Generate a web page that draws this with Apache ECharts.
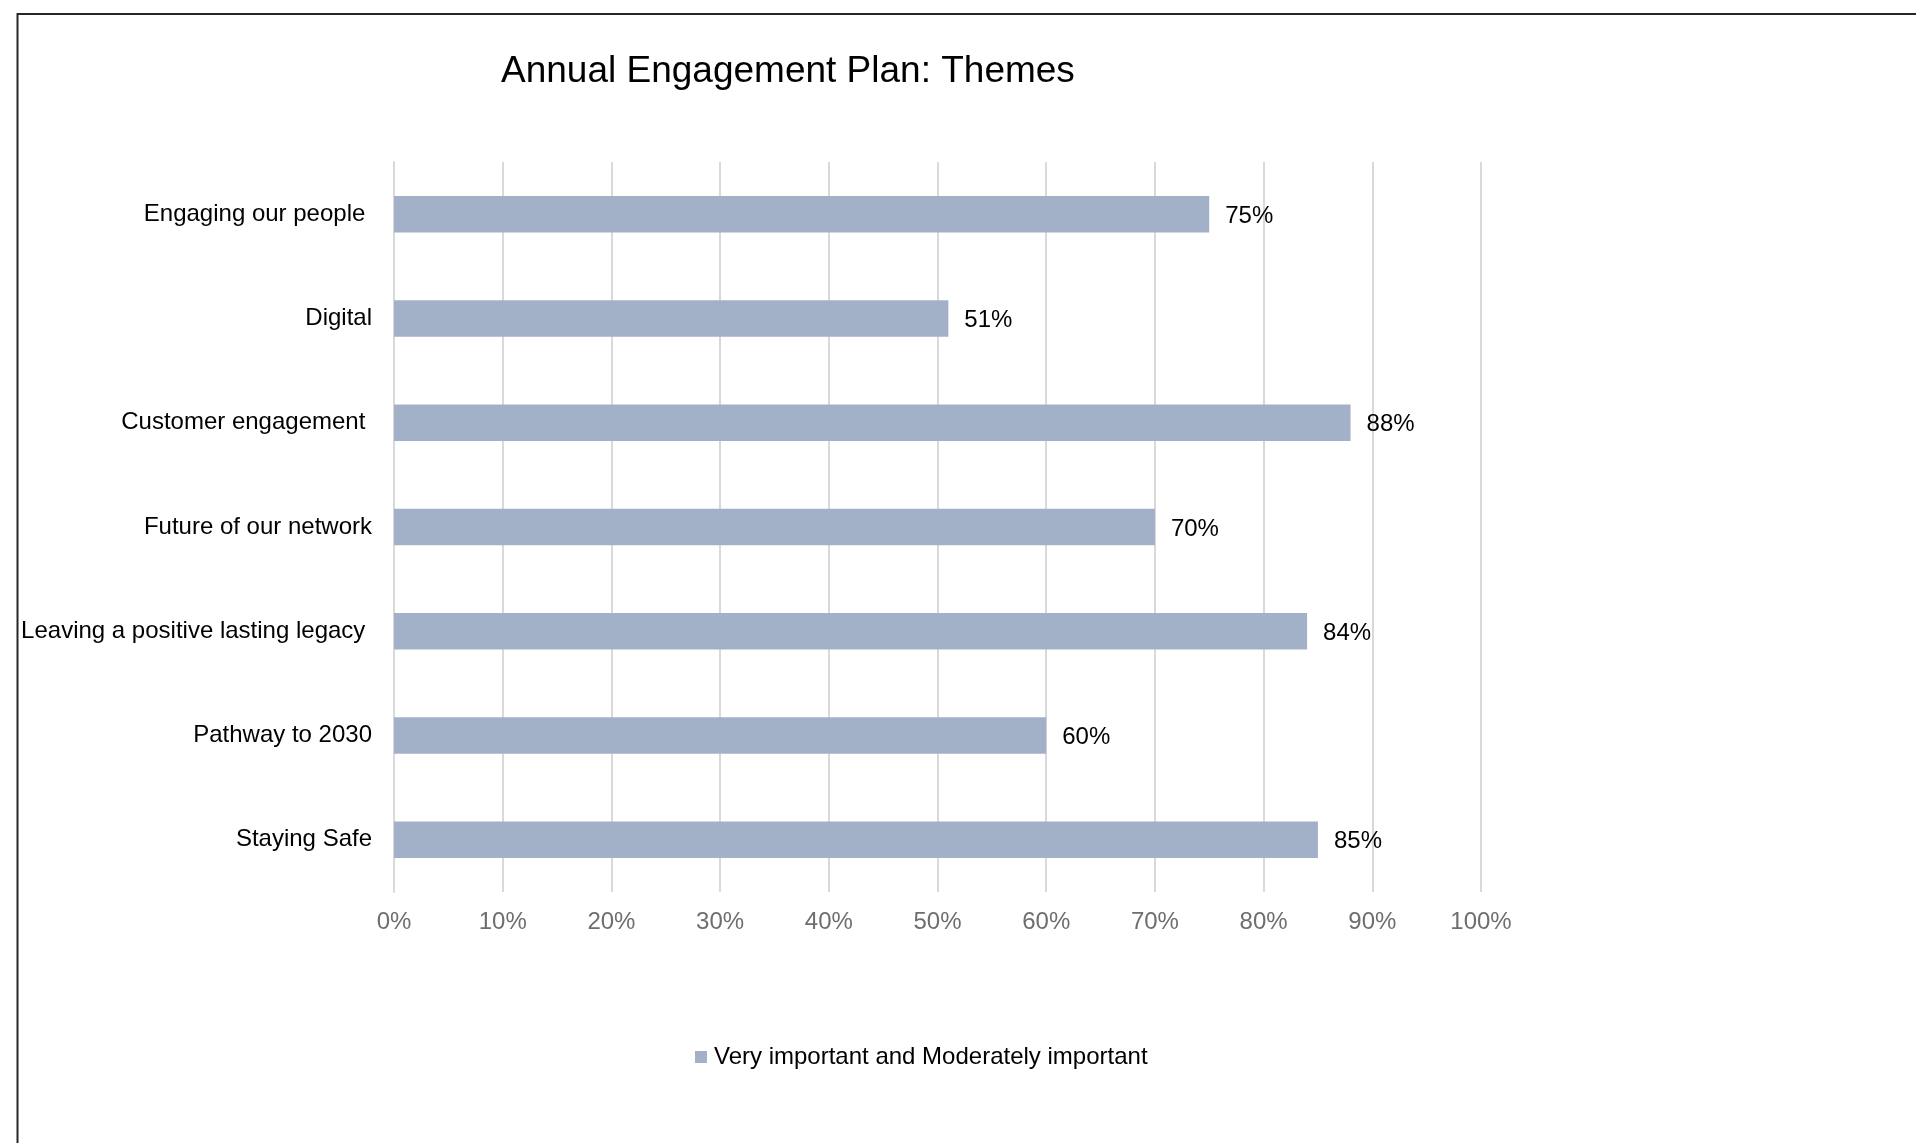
<!DOCTYPE html>
<html>
<head>
<meta charset="utf-8">
<title>Annual Engagement Plan: Themes</title>
<script src="https://cdn.jsdelivr.net/npm/echarts@6/dist/echarts.min.js"></script>
<style>
    html, body { margin: 0; padding: 0; background: #fff; }
    #chart { width: 1916px; height: 1143px; }
</style>
</head>
<body>
<div id="chart"></div>
<script>
// 分类（从上到下）
var categories = [
    'Engaging our people ',
    'Digital',
    'Customer engagement ',
    'Future of our network',
    'Leaving a positive lasting legacy ',
    'Pathway to 2030',
    'Staying Safe'
];
// 数值 %
var values = [75, 51, 88, 70, 84, 60, 85];
var seriesName = 'Very important and Moderately important';
var xTicks = [0, 10, 20, 30, 40, 50, 60, 70, 80, 90, 100];

var font = 'Liberation Sans, Arial, sans-serif';

var chart = echarts.init(document.getElementById('chart'));
chart.setOption({
    animation: false,
    title: {
        text: 'Annual Engagement Plan: Themes',
        left: 496,
        top: 48,
        textStyle: { fontFamily: font, fontSize: 37, fontWeight: 'normal', color: '#000' }
    },
    // 外框
    graphic: [{
        type: 'rect',
        shape: { x: 17.5, y: 14, width: 2000, height: 1200 },
        style: { fill: 'none', stroke: '#262626', lineWidth: 2 },
        silent: true
    }],
    legend: {
        data: [seriesName],
        left: 690,
        top: 1040,
        itemWidth: 12,
        itemHeight: 12,
        icon: 'rect',
        textStyle: { fontFamily: font, fontSize: 24, color: '#000', padding: [0, 0, 0, 2] }
    },
    grid: { left: 394, right: 435, top: 162, bottom: 251, containLabel: false },
    xAxis: {
        type: 'value',
        min: 0,
        max: 100,
        interval: 10,
        axisLine: { show: false },
        axisTick: { show: false },
        splitLine: { lineStyle: { color: '#d9d9d9', width: 2 } },
        axisLabel: {
            margin: 18,
            fontFamily: font,
            fontSize: 24,
            color: '#6e6e6e',
            formatter: function (v) { return xTicks.indexOf(v) >= 0 ? v + '%' : ''; }
        }
    },
    yAxis: {
        type: 'category',
        inverse: true,
        data: categories,
        axisLine: { show: true, lineStyle: { color: '#d9d9d9', width: 2 } },
        axisTick: { show: false },
        axisLabel: { margin: 22, fontFamily: font, fontSize: 24, color: '#000', padding: [4, 0, 0, 0] }
    },
    series: [{
        name: seriesName,
        type: 'bar',
        data: values,
        barWidth: '35%',
        itemStyle: { color: '#a3b1c8' },
        label: {
            show: true,
            position: 'right',
            distance: 16,
            offset: [0, 2],
            fontFamily: font,
            fontSize: 24,
            color: '#000',
            formatter: '{c}%'
        }
    }]
});
</script>
</body>
</html>
